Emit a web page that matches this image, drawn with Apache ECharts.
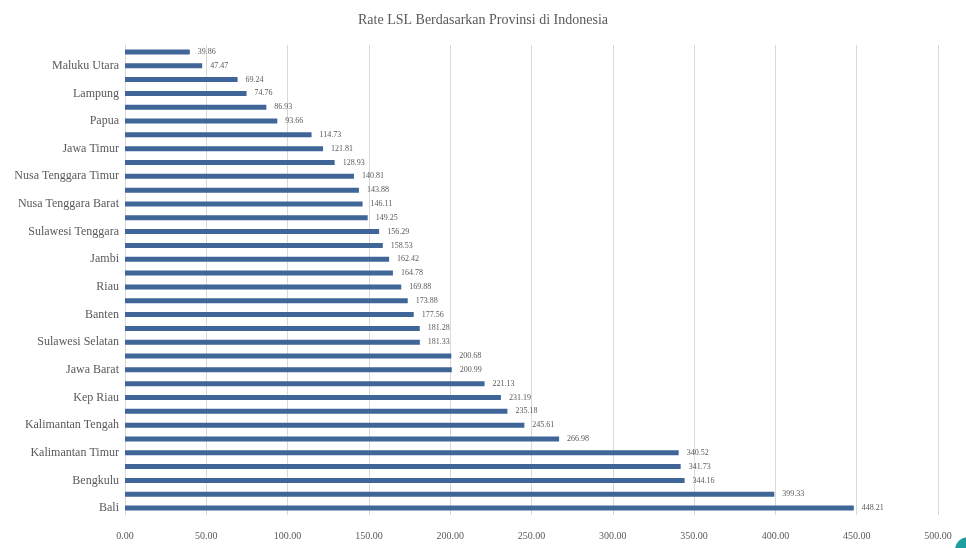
<!DOCTYPE html>
<html>
<head>
<meta charset="utf-8">
<script src="https://cdn.jsdelivr.net/npm/echarts@6/dist/echarts.min.js"></script>
<style>
  html, body { margin: 0; padding: 0; background: #ffffff; }
  #chart { width: 966px; height: 548px; }
</style>
</head>
<body>
<div id="chart"></div>
<script>
// Provinces listed bottom-to-top (first entry sits on the bottom row)
const provinces = [
  'Bali', 'DKI Jakarta', 'Bengkulu', 'Kalimantan Barat', 'Kalimantan Timur',
  'Sumatera Utara', 'Kalimantan Tengah', 'Sumatera Barat', 'Kep Riau', 'Jawa Tengah',
  'Jawa Barat', 'DI Yogyakarta', 'Sulawesi Selatan', 'Sumatera Selatan', 'Banten',
  'Kalimantan Selatan', 'Riau', 'Sulawesi Utara', 'Jambi', 'Sulawesi Tengah',
  'Sulawesi Tenggara', 'Aceh', 'Nusa Tenggara Barat', 'Kep Bangka Belitung', 'Nusa Tenggara Timur',
  'Gorontalo', 'Jawa Timur', 'Kalimantan Utara', 'Papua', 'Papua Barat',
  'Lampung', 'Maluku', 'Maluku Utara', 'Sulawesi Barat'
];

// LSL rate per province, same order as above
const rates = [
  448.21, 399.33, 344.16, 341.73, 340.52,
  266.98, 245.61, 235.18, 231.19, 221.13,
  200.99, 200.68, 181.33, 181.28, 177.56,
  173.88, 169.88, 164.78, 162.42, 158.53,
  156.29, 149.25, 146.11, 143.88, 140.81,
  128.93, 121.81, 114.73, 93.66, 86.93,
  74.76, 69.24, 47.47, 39.86
];

const serif = '"Liberation Serif", "DejaVu Serif", serif';
const textGrey = '#595959';

const chart = echarts.init(document.getElementById('chart'), null, { renderer: 'canvas' });

chart.setOption({
  animation: false,
  backgroundColor: '#ffffff',
  title: {
    text: 'Rate LSL Berdasarkan Provinsi di Indonesia',
    left: 'center',
    top: 8,
    textStyle: { fontFamily: serif, fontSize: 14, fontWeight: 'normal', color: textGrey }
  },
  grid: { left: 125, right: 28, top: 45, bottom: 33, containLabel: false },
  xAxis: {
    type: 'value',
    min: 0,
    max: 500,
    interval: 50,
    axisLine: { show: false },
    axisTick: { show: false },
    splitLine: { lineStyle: { color: '#d9d9d9', width: 1 } },
    axisLabel: {
      margin: 16,
      fontFamily: serif,
      fontSize: 10,
      color: textGrey,
      formatter: v => v.toFixed(2)
    }
  },
  yAxis: {
    type: 'category',
    data: provinces,
    axisLine: { show: true, lineStyle: { color: '#d9d9d9' } },
    axisTick: { show: false },
    axisLabel: {
      interval: 1,
      margin: 6,
      fontFamily: serif,
      fontSize: 12,
      color: textGrey
    }
  },
  series: [{
    type: 'bar',
    data: rates,
    barWidth: 5,
    itemStyle: { color: '#3f6599' },
    label: {
      show: true,
      position: 'right',
      distance: 8,
      fontFamily: serif,
      fontSize: 8,
      color: textGrey,
      formatter: p => p.value.toFixed(2)
    }
  }],
  graphic: [{
    type: 'circle',
    shape: { cx: 968, cy: 550, r: 13 },
    style: { fill: '#1f9ea0' }
  }]
});
</script>
</body>
</html>
